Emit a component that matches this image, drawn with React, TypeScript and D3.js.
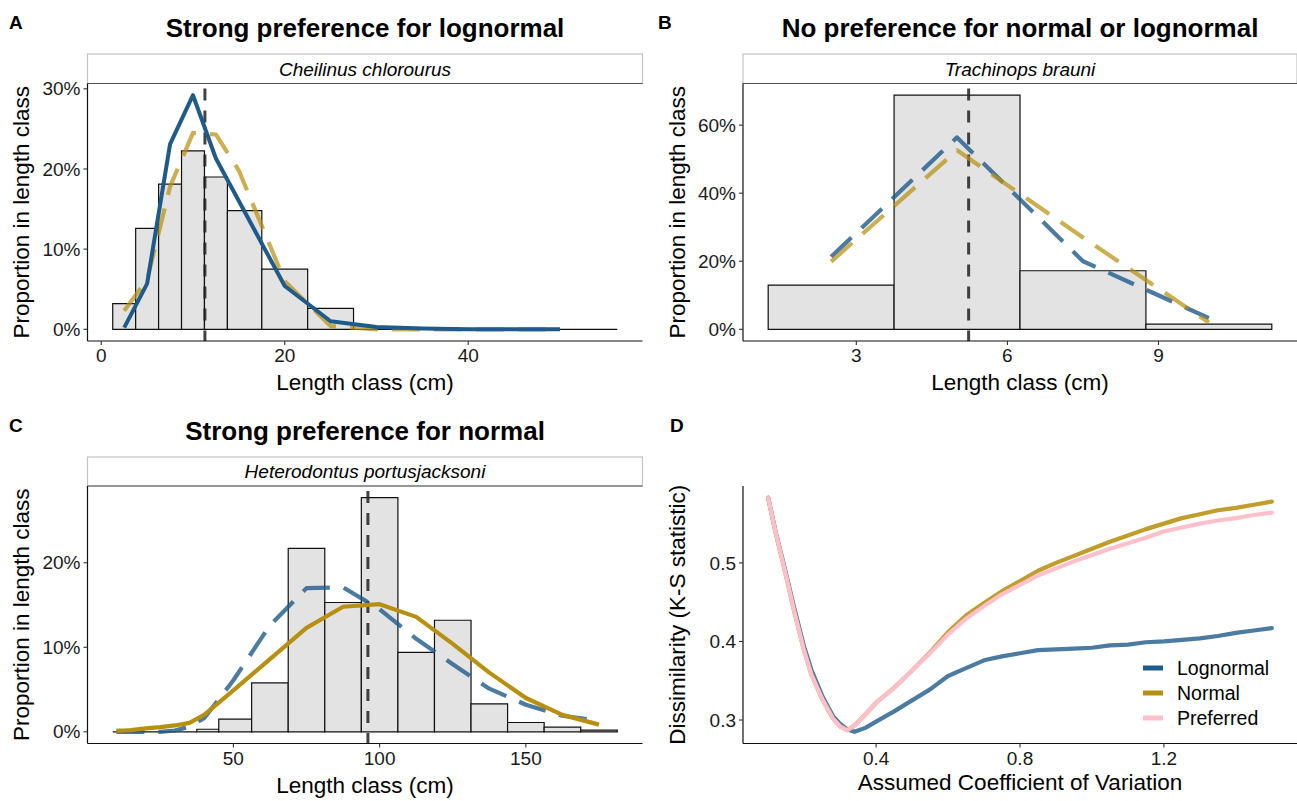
import React from 'react';
import * as d3 from 'd3';

const FONT = '"Liberation Sans", Arial, Helvetica, sans-serif';
const BLUE = '#1E5A8A';
const GOLD = '#B8900F';
const PINK = '#FFC0CB';

// ---------- Panel A : Cheilinus chlorourus ----------
const aEdges = [1.25, 3.75, 6.25, 8.75, 11.25, 13.75, 17.5, 22.5, 27.5, 32.5, 37.5, 45, 56.25];
const aProps = [0.032, 0.126, 0.181, 0.2225, 0.19, 0.148, 0.075, 0.026, 0, 0, 0, 0];
const aClasses = [2.5, 5, 7.5, 10, 12.5, 15, 20, 25, 30, 35, 40, 50];
const aLognormal = [0.002, 0.057, 0.231, 0.292, 0.213, 0.16, 0.054, 0.01, 0.003, 0.001, 0, 0];
const aNormal = [0.023, 0.062, 0.178, 0.245, 0.243, 0.198, 0.06, 0.004, 0, 0, 0, 0];
const aMean = 11.3;
const aXTicks = [0, 20, 40];
const aYTicks = [0, 0.1, 0.2, 0.3];

// ---------- Panel B : Trachinops brauni ----------
const bEdges = [1.25, 3.75, 6.25, 8.75, 11.25];
const bProps = [0.13, 0.688, 0.172, 0.015];
const bClasses = [2.5, 5, 7.5, 10];
const bLognormal = [0.213, 0.564, 0.2, 0.033];
const bNormal = [0.199, 0.526, 0.27, 0.02];
const bMean = 5.23;
const bXTicks = [3, 6, 9];
const bYTicks = [0, 0.2, 0.4, 0.6];

// ---------- Panel C : Heterodontus portusjacksoni ----------
const cEdges = [8.75, 11.25, 13.75, 17.5, 22.5, 27.5, 32.5, 37.5, 45, 56.25, 68.75, 81.25, 93.75, 106.25, 118.75, 131.25, 143.75, 156.25, 168.75, 181.25];
const cProps = [0, 0, 0, 0, 0, 0, 0, 0.003, 0.015, 0.058, 0.217, 0.153, 0.277, 0.094, 0.132, 0.033, 0.011, 0.0055, 0.002];
const cClasses = [10, 12.5, 15, 20, 25, 30, 35, 40, 50, 62.5, 75, 87.5, 100, 112.5, 125, 137.5, 150, 162.5, 175];
const cNormal = [0.0015, 0.0015, 0.002, 0.004, 0.0055, 0.0075, 0.0105, 0.02, 0.049, 0.086, 0.123, 0.148, 0.151, 0.136, 0.104, 0.07, 0.04, 0.02, 0.0085];
const cLognormal = [0, 0, 0, 0, 0, 0.0015, 0.006, 0.016, 0.061, 0.126, 0.17, 0.171, 0.145, 0.11, 0.08, 0.051, 0.032, 0.019, 0.013];
const cMean = 96;
const cXTicks = [50, 100, 150];
const cYTicks = [0, 0.1, 0.2];

// ---------- Panel D : K-S dissimilarity vs assumed CV ----------
const cv = [0.1, 0.12, 0.15, 0.17, 0.2, 0.22, 0.25, 0.28, 0.3, 0.32, 0.34, 0.37, 0.4, 0.45, 0.5, 0.55, 0.6, 0.65, 0.7, 0.75, 0.8, 0.85, 0.9, 0.95, 1.0, 1.05, 1.1, 1.15, 1.2, 1.25, 1.3, 1.35, 1.4, 1.45, 1.5];
const ksLognormal = [0.583, 0.541, 0.486, 0.447, 0.393, 0.364, 0.331, 0.305, 0.295, 0.288, 0.285, 0.29, 0.298, 0.311, 0.325, 0.339, 0.356, 0.366, 0.376, 0.381, 0.385, 0.389, 0.39, 0.391, 0.392, 0.395, 0.396, 0.399, 0.4, 0.402, 0.404, 0.407, 0.411, 0.414, 0.417];
const ksNormal = [0.583, 0.54, 0.483, 0.443, 0.388, 0.358, 0.327, 0.302, 0.292, 0.287, 0.293, 0.307, 0.322, 0.341, 0.363, 0.386, 0.412, 0.433, 0.449, 0.464, 0.477, 0.49, 0.5, 0.509, 0.518, 0.527, 0.535, 0.543, 0.55, 0.557, 0.562, 0.567, 0.57, 0.574, 0.578];
const ksPreferred = [0.583, 0.54, 0.483, 0.443, 0.388, 0.358, 0.327, 0.302, 0.292, 0.287, 0.293, 0.307, 0.322, 0.341, 0.363, 0.385, 0.409, 0.429, 0.445, 0.46, 0.472, 0.484, 0.493, 0.502, 0.51, 0.518, 0.525, 0.532, 0.54, 0.545, 0.55, 0.554, 0.557, 0.561, 0.564];
const dXTicks = [0.4, 0.8, 1.2];
const dYTicks = [0.3, 0.4, 0.5];
const legendLabels = ['Lognormal', 'Normal', 'Preferred'];

type Frame = { x0: number; x1: number; y0: number; y1: number };

const pad = (lo: number, hi: number): [number, number] => {
  const r = hi - lo;
  return [lo - 0.05 * r, hi + 0.05 * r];
};

const TICK = 19;
const AXT = 22.5;

function Axes({ frame, xs, ys, xTicks, yTicks, yFmt, xFmt, xTitle, yTitle, xTitleOff }: any) {
  return (
    <g>
      <line x1={frame.x0} x2={frame.x0} y1={frame.y0} y2={frame.y1} stroke="#111" strokeWidth={1.2} />
      <line x1={frame.x0} x2={frame.x1} y1={frame.y1} y2={frame.y1} stroke="#111" strokeWidth={1.2} />
      {yTicks.map((t: number) => (
        <g key={'y' + t}>
          <line x1={frame.x0 - 4} x2={frame.x0} y1={ys(t)} y2={ys(t)} stroke="#333" strokeWidth={1.1} />
          <text x={frame.x0 - 7} y={ys(t)} dy="0.35em" textAnchor="end" fontSize={TICK} fill="#1a1a1a">{yFmt(t)}</text>
        </g>
      ))}
      {xTicks.map((t: number) => (
        <g key={'x' + t}>
          <line x1={xs(t)} x2={xs(t)} y1={frame.y1} y2={frame.y1 + 4} stroke="#333" strokeWidth={1.1} />
          <text x={xs(t)} y={frame.y1 + 21} textAnchor="middle" fontSize={TICK} fill="#1a1a1a">{xFmt(t)}</text>
        </g>
      ))}
      <text x={(frame.x0 + frame.x1) / 2} y={frame.y1 + xTitleOff} textAnchor="middle" fontSize={AXT} fill="#000">{xTitle}</text>
      <text transform={`translate(${frame.x0 - 66},${(frame.y0 + frame.y1) / 2}) rotate(-90)`} dy="0.35em" textAnchor="middle" fontSize={AXT} fill="#000">{yTitle}</text>
    </g>
  );
}

function Hist({ frame, stripY, edges, props, classes, logn, norm, mean, xTicks, yTicks, preferred, title, strip, label, labelX }: any) {
  const xs = d3.scaleLinear().domain(pad(edges[0], edges[edges.length - 1])).range([frame.x0, frame.x1]);
  const yMax = d3.max([...props, ...logn, ...norm]) as number;
  const ys = d3.scaleLinear().domain(pad(0, yMax)).range([frame.y1, frame.y0]);
  const line = d3.line<number>().x((_, i) => xs(classes[i])).y((d) => ys(d));
  const bars = props.map((p: number, i: number) => {
    const pth = d3.path();
    pth.moveTo(xs(edges[i]), ys(0));
    pth.lineTo(xs(edges[i]), ys(p));
    pth.lineTo(xs(edges[i + 1]), ys(p));
    pth.lineTo(xs(edges[i + 1]), ys(0));
    pth.closePath();
    return pth.toString();
  });
  const dash = '28,14';
  const lnSolid = preferred === 'lognormal';
  const nmSolid = preferred === 'normal';
  const lnEl = (
    <path d={line(logn) || ''} fill="none" stroke={BLUE} strokeWidth={lnSolid ? 4 : 4.2}
      strokeOpacity={lnSolid ? 1 : 0.8} strokeDasharray={lnSolid ? undefined : dash} strokeLinejoin="round" />
  );
  const nmEl = (
    <path d={line(norm) || ''} fill="none" stroke={GOLD} strokeWidth={4.2}
      strokeOpacity={nmSolid ? 1 : 0.72} strokeDasharray={nmSolid ? undefined : dash} strokeLinejoin="round" />
  );
  const cx = (frame.x0 + frame.x1) / 2;
  return (
    <g>
      <text x={labelX} y={stripY - 25} fontSize={19} fontWeight="bold">{label}</text>
      <text x={cx} y={stripY - 17} textAnchor="middle" fontSize={26} fontWeight="bold">{title}</text>
      <rect x={frame.x0} y={stripY} width={frame.x1 - frame.x0} height={frame.y0 - stripY} fill="#fff" stroke="#c4c4c4" strokeWidth={1.2} />
      <line x1={frame.x0} x2={frame.x1} y1={frame.y0} y2={frame.y0} stroke="#555" strokeWidth={1.2} />
      <text x={cx} y={(stripY + frame.y0) / 2} dy="0.36em" textAnchor="middle" fontSize={19} fontStyle="italic">{strip}</text>
      {bars.map((d: string, i: number) => (
        <path key={i} d={d} fill="#E3E3E3" stroke="#111" strokeWidth={1.2} />
      ))}
      <line x1={xs(mean)} x2={xs(mean)} y1={frame.y0 + 5} y2={frame.y1} stroke="#222" strokeOpacity={0.85} strokeWidth={3} strokeDasharray="12,10" />
      {lnSolid ? <>{nmEl}{lnEl}</> : <>{lnEl}{nmEl}</>}
      <Axes frame={frame} xs={xs} ys={ys} xTicks={xTicks} yTicks={yTicks} yFmt={d3.format('.0%')} xFmt={d3.format('d')}
        xTitle="Length class (cm)" yTitle="Proportion in length class" xTitleOff={49} />
    </g>
  );
}

function PanelD({ frame }: { frame: Frame }) {
  const xs = d3.scaleLinear().domain(pad(d3.min(cv) as number, d3.max(cv) as number)).range([frame.x0, frame.x1]);
  const all = [...ksLognormal, ...ksNormal, ...ksPreferred];
  const ys = d3.scaleLinear().domain(pad(d3.min(all) as number, d3.max(all) as number)).range([frame.y1, frame.y0]);
  const line = d3.line<number>().x((_, i) => xs(cv[i])).y((d) => ys(d));
  const series = [
    { v: ksLognormal, c: BLUE, o: 0.8 },
    { v: ksNormal, c: GOLD, o: 0.88 },
    { v: ksPreferred, c: PINK, o: 1 },
  ];
  const keyColors = [BLUE, GOLD, PINK];
  return (
    <g>
      <text x={670} y={432} fontSize={19} fontWeight="bold">D</text>
      {series.map((s, i) => (
        <path key={i} d={line(s.v) || ''} fill="none" stroke={s.c} strokeOpacity={s.o} strokeWidth={4.2} strokeLinejoin="round" strokeLinecap="round" />
      ))}
      <Axes frame={frame} xs={xs} ys={ys} xTicks={dXTicks} yTicks={dYTicks} yFmt={d3.format('.1f')} xFmt={d3.format('.1f')}
        xTitle="Assumed Coefficient of Variation" yTitle="Dissimilarity (K-S statistic)" xTitleOff={46} />
      {legendLabels.map((l, i) => (
        <g key={l} transform={`translate(1143,${668 + i * 25})`}>
          <line x1={0} x2={20} y1={0} y2={0} stroke={keyColors[i]} strokeWidth={5} />
          <text x={34} y={0} dy="0.35em" fontSize={19.5}>{l}</text>
        </g>
      ))}
    </g>
  );
}

export default function App() {
  const fA: Frame = { x0: 87.5, x1: 642.5, y0: 83.5, y1: 341 };
  const fB: Frame = { x0: 743, x1: 1297, y0: 83.5, y1: 341 };
  const fC: Frame = { x0: 87.5, x1: 642.5, y0: 486, y1: 743.5 };
  const fD: Frame = { x0: 743, x1: 1297, y0: 486, y1: 743.5 };
  return (
    <svg width={1297} height={801} style={{ position: 'absolute', left: 0, top: 0, background: '#fff' }}
      fontFamily={FONT}>
      <rect width={1297} height={801} fill="#fff" />
      <Hist frame={fA} stripY={54} edges={aEdges} props={aProps} classes={aClasses} logn={aLognormal} norm={aNormal}
        mean={aMean} xTicks={aXTicks} yTicks={aYTicks} preferred="lognormal"
        title="Strong preference for lognormal" strip="Cheilinus chlorourus" label="A" labelX={9} />
      <Hist frame={fB} stripY={54} edges={bEdges} props={bProps} classes={bClasses} logn={bLognormal} norm={bNormal}
        mean={bMean} xTicks={bXTicks} yTicks={bYTicks} preferred="none"
        title="No preference for normal or lognormal" strip="Trachinops brauni" label="B" labelX={658} />
      <Hist frame={fC} stripY={457} edges={cEdges} props={cProps} classes={cClasses} logn={cLognormal} norm={cNormal}
        mean={cMean} xTicks={cXTicks} yTicks={cYTicks} preferred="normal"
        title="Strong preference for normal" strip="Heterodontus portusjacksoni" label="C" labelX={9} />
      <PanelD frame={fD} />
    </svg>
  );
}
